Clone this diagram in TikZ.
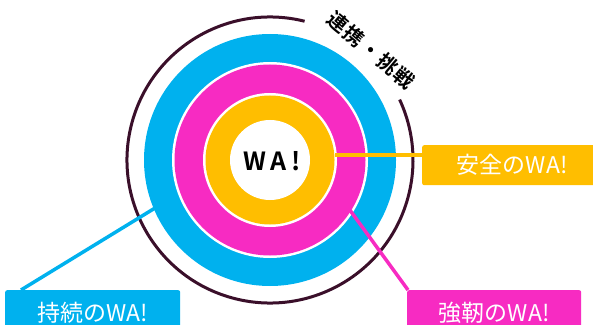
\documentclass[tikz,border=0pt]{standalone}
\usepackage{fontspec}
\setmainfont{Noto Sans CJK JP}
\newfontfamily\jpfont{Noto Sans CJK JP}
\newfontfamily\jpbold[LetterSpace=8]{Noto Sans CJK JP Bold}
\newfontfamily\wafont[LetterSpace=18]{Noto Sans CJK JP Bold}
\definecolor{wacyan}{HTML}{00B1EE}
\definecolor{wamag}{HTML}{F72BC2}
\definecolor{wayel}{HTML}{FFBE00}
\definecolor{wadark}{HTML}{3A0F2A}
\begin{document}
\begin{tikzpicture}[x=1pt,y=1pt,
  labelbox/.style={rounded corners=2pt, text=white, inner sep=0pt,
    font=\jpfont\fontsize{23}{23}\selectfont, anchor=north west},
  conn/.style={line width=3.5pt}]
\useasboundingbox (0,0) rectangle (593,324);
\coordinate (c) at (270,164);
% outer dark ring with gap
\draw[wadark, line width=3pt] ([shift={(76:143)}]c) arc[start angle=76, end angle=385, radius=143];
% rings
\fill[wacyan] (c) circle[radius=126];
\fill[white] (c) circle[radius=98];
\fill[wamag] (c) circle[radius=95.5];
\fill[white] (c) circle[radius=67];
\fill[wayel] (c) circle[radius=64.5];
\fill[white] (c) circle[radius=40];
\node (wa) at ([xshift=2pt,yshift=-1pt]c) {\wafont\fontsize{25}{25}\selectfont WA!};
% arc text
\node[rotate=-40, font=\jpbold\fontsize{20}{20}\selectfont] (kw) at (371,274) {連携・挑戦};
% label boxes
\node[labelbox, fill=wayel, minimum width=180pt, minimum height=40pt] (anzen) at (422,179) {安全のWA!};
\node[labelbox, fill=wacyan, minimum width=175pt, minimum height=46pt] (jizoku) at (5,34) {持続のWA!};
\node[labelbox, fill=wamag, minimum width=174pt, minimum height=46pt] (kyojin) at (407,34) {強靭のWA!};
% connection points on rings
\coordinate (py) at ([shift={(4.4:65)}]c);
\coordinate (pc) at ([shift={(202.7:125)}]c);
\coordinate (pm) at ([shift={(-32:94)}]c);
\draw[conn, wayel] (py) -- (py -| anzen.west);
\draw[conn, wacyan] (pc) -- ([xshift=16pt]jizoku.north west);
\draw[conn, wamag] (pm) -- ([xshift=1pt]kyojin.north west);
\end{tikzpicture}
\end{document}
